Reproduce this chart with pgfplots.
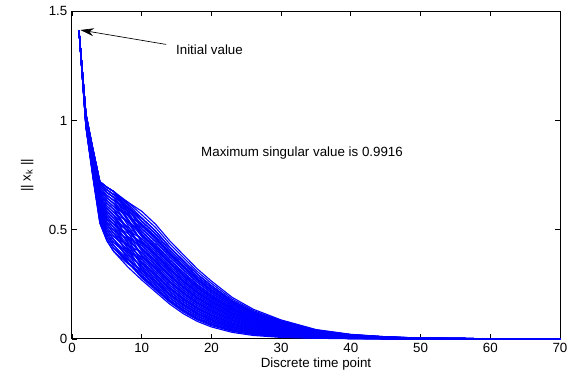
\documentclass[border=0pt]{standalone}
\usepackage{pgfplots}
\usepackage{pgfplotstable}
\pgfplotsset{compat=1.18}
\usepackage{fontspec}
\setmainfont{Liberation Sans}
\usetikzlibrary{arrows.meta}

\pgfplotstableread{
x c1 c2 c3 c4 c5 c6 c7 c8 c9 c10 c11 c12 c13 c14 c15 c16 c17 c18 c19 c20 c21 c22 c23 c24 c25 c26 c27 c28 c29 c30
1 1.414 1.414 1.414 1.414 1.414 1.414 1.414 1.414 1.414 1.414 1.414 1.414 1.414 1.414 1.414 1.414 1.414 1.414 1.414 1.414 1.414 1.414 1.414 1.414 1.414 1.414 1.414 1.414 1.414 1.414
2 .970 .976 .973 .982 .976 .988 .979 .991 .985 .997 .988 1.000 .994 1.006 .997 1.009 1.003 1.015 1.006 1.018 1.012 1.024 1.018 1.027 1.021 1.030 1.024 1.030 1.027 1.030
3 .740 .753 .747 .766 .753 .779 .760 .786 .773 .799 .779 .805 .792 .818 .799 .825 .812 .838 .818 .844 .831 .857 .844 .864 .851 .870 .857 .870 .864 .870
4 .530 .549 .540 .568 .549 .587 .559 .597 .578 .616 .587 .625 .606 .644 .616 .654 .635 .673 .644 .682 .663 .701 .682 .711 .692 .720 .701 .720 .711 .720
5 .450 .475 .462 .499 .475 .524 .487 .536 .511 .560 .524 .573 .548 .597 .560 .609 .585 .634 .597 .646 .622 .671 .646 .683 .658 .695 .671 .695 .683 .695
6 .400 .428 .414 .455 .428 .483 .441 .496 .469 .524 .483 .538 .510 .565 .524 .579 .551 .606 .565 .620 .593 .648 .620 .661 .634 .675 .648 .675 .661 .675
8 .330 .350 .348 .376 .365 .402 .383 .419 .409 .444 .426 .463 .452 .487 .470 .505 .495 .531 .513 .548 .539 .574 .565 .594 .585 .614 .605 .627 .627 .605
10 .270 .280 .292 .302 .311 .324 .333 .342 .355 .365 .374 .387 .396 .405 .418 .428 .437 .450 .459 .469 .481 .491 .503 .516 .528 .541 .554 .569 .585 .522
12 .215 .224 .237 .246 .255 .268 .277 .286 .299 .308 .317 .330 .339 .348 .361 .370 .379 .392 .401 .410 .423 .432 .444 .457 .469 .482 .494 .510 .525 .463
14 .160 .169 .180 .189 .198 .209 .218 .227 .238 .247 .256 .267 .276 .285 .296 .305 .314 .325 .334 .343 .354 .363 .375 .386 .398 .409 .421 .436 .450 .392
16 .115 .123 .134 .142 .150 .161 .169 .177 .188 .196 .204 .215 .223 .231 .242 .250 .258 .269 .277 .285 .296 .304 .315 .326 .336 .347 .358 .372 .385 .331
18 .080 .087 .097 .104 .111 .121 .128 .135 .145 .152 .159 .169 .176 .183 .193 .200 .207 .217 .224 .231 .241 .248 .258 .267 .277 .286 .296 .308 .320 .272
20 .055 .061 .070 .076 .082 .091 .097 .103 .112 .118 .124 .133 .139 .145 .154 .160 .166 .175 .181 .187 .196 .202 .210 .219 .227 .236 .244 .255 .265 .223
23 .030 .035 .041 .046 .051 .057 .062 .067 .073 .078 .083 .089 .094 .099 .105 .110 .115 .121 .126 .131 .137 .142 .148 .155 .161 .168 .174 .182 .190 .158
26 .016 .020 .024 .028 .032 .036 .040 .044 .048 .052 .056 .060 .064 .068 .072 .076 .080 .084 .088 .092 .096 .100 .105 .110 .114 .119 .124 .130 .136 .112
30 .007 .009 .013 .015 .017 .021 .023 .025 .029 .031 .033 .037 .039 .041 .045 .047 .049 .053 .055 .057 .061 .063 .066 .069 .073 .076 .079 .083 .087 .071
35 .003 .004 .006 .007 .008 .010 .011 .012 .014 .015 .016 .018 .019 .020 .022 .023 .024 .026 .027 .028 .030 .031 .033 .034 .036 .037 .039 .041 .043 .035
40 .001 .002 .002 .003 .004 .004 .005 .006 .006 .007 .008 .008 .009 .010 .010 .011 .012 .012 .013 .014 .014 .015 .016 .017 .017 .018 .019 .020 .021 .017
45 0 0 .001 .001 .001 .002 .002 .002 .003 .003 .003 .004 .004 .004 .005 .005 .005 .006 .006 .006 .007 .007 .007 .008 .008 .009 .009 .010 .010 .008
50 0 0 0 0 .001 .001 .001 .001 .001 .001 .001 .001 .002 .002 .002 .002 .002 .002 .002 .003 .003 .003 .003 .003 .003 .003 .004 .004 .004 .003
60 0 0 0 0 0 0 0 0 0 0 0 0 0 0 0 .001 .001 .001 .001 .001 .001 .001 .001 .001 .001 .001 .001 .001 .001 .001
70 0 0 0 0 0 0 0 0 0 0 0 0 0 0 0 0 0 0 0 0 0 0 0 0 0 0 0 0 0 0
}\dataA

\pgfplotstableread{
x c31 c32 c33 c34 c35 c36 c37 c38 c39 c40 c41 c42 c43 c44 c45 c46 c47 c48 c49 c50 c51 c52 c53 c54 c55 c56 c57 c58 c59 c60
1 1.414 1.414 1.414 1.414 1.414 1.414 1.414 1.414 1.414 1.414 1.414 1.414 1.414 1.414 1.414 1.414 1.414 1.414 1.414 1.414 1.414 1.414 1.414 1.414 1.414 1.414 1.414 1.414 1.414 1.414
2 .982 .973 .994 .979 1.003 .985 1.012 .991 1.021 1.000 1.024 1.009 1.030 1.015 1.027 1.021 1.030 1.024 1.018 1.012 1.006 1.000 .994 .988 .976 .970 1.027 1.030 .982 .997
3 .766 .747 .792 .760 .812 .773 .831 .786 .851 .805 .857 .825 .870 .838 .864 .851 .870 .857 .844 .831 .818 .805 .792 .779 .753 .740 .864 .870 .766 .799
4 .568 .540 .606 .559 .635 .578 .663 .597 .692 .625 .701 .654 .720 .673 .711 .692 .720 .701 .682 .663 .644 .625 .606 .587 .549 .530 .711 .720 .568 .616
5 .499 .462 .548 .487 .585 .511 .622 .536 .658 .573 .671 .609 .695 .634 .683 .658 .695 .671 .646 .622 .597 .573 .548 .524 .475 .450 .683 .695 .499 .560
6 .455 .414 .510 .441 .551 .469 .593 .496 .634 .538 .648 .579 .675 .606 .661 .634 .675 .648 .620 .593 .565 .538 .510 .483 .428 .400 .661 .675 .455 .524
8 .368 .361 .429 .399 .467 .429 .505 .460 .544 .498 .566 .536 .597 .566 .605 .597 .582 .551 .521 .490 .460 .437 .414 .391 .353 .345 .582 .620 .391 .483
10 .286 .317 .349 .365 .380 .396 .412 .428 .443 .459 .475 .491 .506 .522 .538 .554 .475 .443 .412 .380 .349 .333 .317 .302 .286 .302 .491 .554 .333 .443
12 .231 .262 .293 .308 .324 .339 .355 .370 .386 .401 .417 .432 .448 .463 .479 .494 .417 .386 .355 .324 .293 .277 .262 .246 .231 .246 .432 .494 .277 .386
14 .175 .204 .233 .247 .262 .276 .291 .305 .320 .334 .349 .363 .378 .392 .407 .421 .349 .320 .291 .262 .233 .218 .204 .189 .175 .189 .363 .421 .218 .320
16 .129 .156 .183 .196 .210 .223 .237 .250 .264 .277 .291 .304 .318 .331 .345 .358 .291 .264 .237 .210 .183 .169 .156 .142 .129 .142 .304 .358 .169 .264
18 .092 .116 .140 .152 .164 .176 .188 .200 .212 .224 .236 .248 .260 .272 .284 .296 .236 .212 .188 .164 .140 .128 .116 .104 .092 .104 .248 .296 .128 .212
20 .066 .087 .108 .118 .129 .139 .150 .160 .171 .181 .192 .202 .213 .223 .234 .244 .192 .171 .150 .129 .108 .097 .087 .076 .066 .076 .202 .244 .097 .171
23 .038 .054 .070 .078 .086 .094 .102 .110 .118 .126 .134 .142 .150 .158 .166 .174 .134 .118 .102 .086 .070 .062 .054 .046 .038 .046 .142 .174 .062 .118
26 .022 .034 .046 .052 .058 .064 .070 .076 .082 .088 .094 .100 .106 .112 .118 .124 .094 .082 .070 .058 .046 .040 .034 .028 .022 .028 .100 .124 .040 .082
30 .011 .019 .027 .031 .035 .039 .043 .047 .051 .055 .059 .063 .067 .071 .075 .079 .059 .051 .043 .035 .027 .023 .019 .015 .011 .015 .063 .079 .023 .051
35 .005 .009 .013 .015 .017 .019 .021 .023 .025 .027 .029 .031 .033 .035 .037 .039 .029 .025 .021 .017 .013 .011 .009 .007 .005 .007 .031 .039 .011 .025
40 .002 .004 .006 .007 .008 .009 .010 .011 .012 .013 .014 .015 .016 .017 .018 .019 .014 .012 .010 .008 .006 .005 .004 .003 .002 .003 .015 .019 .005 .012
45 .001 .002 .003 .003 .004 .004 .005 .005 .006 .006 .007 .007 .008 .008 .009 .009 .007 .006 .005 .004 .003 .002 .002 .001 .001 .001 .007 .009 .002 .006
50 0 .001 .001 .001 .001 .002 .002 .002 .002 .002 .003 .003 .003 .003 .003 .004 .003 .002 .002 .001 .001 .001 .001 0 0 0 .003 .004 .001 .002
60 0 0 0 0 0 0 0 0 .001 .001 .001 .001 .001 .001 .001 .001 .001 .001 0 0 0 0 0 0 0 0 .001 .001 0 .001
70 0 0 0 0 0 0 0 0 0 0 0 0 0 0 0 0 0 0 0 0 0 0 0 0 0 0 0 0 0 0
}\dataB

\definecolor{mblue}{RGB}{0,0,255}

\begin{document}
\begin{tikzpicture}
\begin{axis}[
  scale only axis,
  width=366pt, height=245.6pt,
  xmin=0, xmax=70, ymin=0, ymax=1.5,
  xtick={0,10,...,70},
  ytick={0,0.5,1,1.5},
  yticklabels={0,0.5,1,1.5},
  tick align=inside,
  major tick length=3.5pt,
  axis line style={black, line width=0.75pt},
  every tick/.style={black, line width=0.6pt},
  tick label style={font=\fontsize{10}{12}\selectfont},
  label style={font=\fontsize{10}{12}\selectfont},
  /pgf/number format/assume math mode=true,
  xlabel={Discrete time point},
  ylabel={|| x\textsubscript{k} ||},
  every axis x label/.style={at={(axis description cs:0.5,-0.076)}, anchor=center},
  every axis y label/.style={at={(axis description cs:-0.092,0.5)}, anchor=center, rotate=90},
  clip=false,
]
\pgfplotsinvokeforeach{1,...,30}{
  \addplot[color=mblue, line width=0.85pt] table[x=x, y=c#1] {\dataA};
}
\pgfplotsinvokeforeach{31,...,60}{
  \addplot[color=mblue, line width=0.85pt] table[x=x, y=c#1] {\dataB};
}
\draw[-{Stealth[length=10pt,width=6pt]}, line width=0.5pt] (axis cs:13.5,1.349) -- (axis cs:1.22,1.415);
\node[anchor=base west, inner sep=0pt, font=\fontsize{10}{12}\selectfont] at (axis cs:14.9,1.305) {Initial value};
\node[anchor=base west, inner sep=0pt, font=\fontsize{10}{12}\selectfont] at (axis cs:18.5,0.835) {Maximum singular value is 0.9916};
\end{axis}
\pgfresetboundingbox
\path[use as bounding box] ([xshift=-54pt,yshift=-27pt]current axis.south west) rectangle ([xshift=14.25pt,yshift=8.6pt]current axis.north east);
\end{tikzpicture}
\end{document}
